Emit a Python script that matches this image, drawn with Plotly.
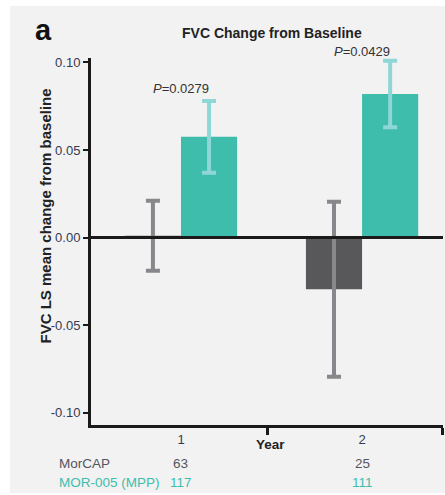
import plotly.graph_objects as go

years = [1, 2]
morcap_vals = [0.001, -0.0295]
morcap_err = [0.020, 0.050]
mpp_vals = [0.0575, 0.082]
mpp_err = [0.0205, 0.019]
p_labels = ["0.0279", "0.0429"]
n_morcap = ["63", "25"]
n_mpp = ["117", "111"]
ytick_vals = [0.10, 0.05, 0.00, -0.05, -0.10]
ytick_text = ["0.10", "0.05", "0.00", "-0.05", "-0.10"]

FONT = "Liberation Sans, Arial, sans-serif"
W, H = 445, 495
L, R, T, B = 91, 2, 58, 70
PW, PH = W - L - R, H - T - B

def px_x(p):
    return (p - L) / PW

def px_y(p):
    return (H - B - p) / PH

fig = go.Figure()
fig.add_trace(go.Bar(
    x=years, y=morcap_vals, name="MorCAP",
    marker=dict(color="#58585a", line=dict(width=0)),
    error_y=dict(type="data", array=morcap_err, color="#88888c", thickness=4, width=7),
))
fig.add_trace(go.Bar(
    x=years, y=mpp_vals, name="MOR-005 (MPP)",
    marker=dict(color="#3fbdac", line=dict(width=0)),
    error_y=dict(type="data", array=mpp_err, color="#8fd6d6", thickness=4, width=7),
))

ann = []
ann.append(dict(text="<b>a</b>", x=px_x(33), y=px_y(30), xref="paper", yref="paper",
                xanchor="left", yanchor="middle", showarrow=False,
                font=dict(family=FONT, size=29, color="#111")))
ann.append(dict(text="<b>FVC Change from Baseline</b>", x=px_x(272), y=px_y(33),
                xref="paper", yref="paper", xanchor="center", yanchor="middle",
                showarrow=False, font=dict(family=FONT, size=14, color="#222")))
ann.append(dict(text="<b>FVC LS mean change from baseline</b>", x=px_x(44.5), y=px_y(216),
                xref="paper", yref="paper", xanchor="center", yanchor="middle",
                textangle=-90, showarrow=False, font=dict(family=FONT, size=15, color="#222")))
ann.append(dict(text="<b>Year</b>", x=px_x(270), y=px_y(445), xref="paper", yref="paper",
                xanchor="center", yanchor="middle", showarrow=False,
                font=dict(family=FONT, size=13.5, color="#222")))
p_py = [88, 52]
for yr, p, py in zip(years, p_labels, p_py):
    ann.append(dict(text="<i>P</i>=" + p, x=yr, y=px_y(py), xref="x", yref="paper",
                    xanchor="center", yanchor="middle", showarrow=False,
                    font=dict(family=FONT, size=13, color="#333")))
ann.append(dict(text="MorCAP", x=px_x(57), y=px_y(464), xref="paper", yref="paper",
                xanchor="left", yanchor="middle", showarrow=False,
                font=dict(family=FONT, size=13.5, color="#555560")))
ann.append(dict(text="MOR-005 (MPP)", x=px_x(57), y=px_y(482), xref="paper", yref="paper",
                xanchor="left", yanchor="middle", showarrow=False,
                font=dict(family=FONT, size=13.5, color="#3fbdac")))
for yr, a, b in zip(years, n_morcap, n_mpp):
    ann.append(dict(text=a, x=yr, y=px_y(464), xref="x", yref="paper", xanchor="center",
                    yanchor="middle", showarrow=False,
                    font=dict(family=FONT, size=13.5, color="#555560")))
    ann.append(dict(text=b, x=yr, y=px_y(482), xref="x", yref="paper", xanchor="center",
                    yanchor="middle", showarrow=False,
                    font=dict(family=FONT, size=13.5, color="#3fbdac")))

shapes = [
    dict(type="rect", xref="paper", yref="paper", x0=px_x(10), x1=px_x(446),
         y0=px_y(493), y1=px_y(6), fillcolor="#f2f2f2", line=dict(width=0), layer="below"),
    dict(type="line", xref="paper", yref="y", x0=0, x1=1, y0=0, y1=0,
         line=dict(color="#1a1a1a", width=3), layer="above"),
]

fig.update_layout(
    width=W, height=H,
    margin=dict(l=L, r=R, t=T, b=B),
    paper_bgcolor="white", plot_bgcolor="rgba(0,0,0,0)",
    barmode="group", bargap=0.38, bargroupgap=0,
    showlegend=False,
    annotations=ann, shapes=shapes,
    xaxis=dict(range=[0.503, 2.447], tickvals=years, ticktext=[str(y) for y in years],
               ticks="", showgrid=False, zeroline=False, showline=True,
               linecolor="#1a1a1a", linewidth=3,
               tickfont=dict(family=FONT, size=13, color="#333a55"),
               minor=dict(tickvals=[1.475, 2.444], ticks="outside", ticklen=7,
                          tickwidth=3, tickcolor="#1a1a1a", showgrid=False)),
    yaxis=dict(range=[-0.107, 0.1025], tickvals=ytick_vals, ticktext=ytick_text,
               ticks="outside", ticklen=5, tickwidth=2, tickcolor="#1a1a1a",
               showgrid=False, zeroline=False, showline=True,
               linecolor="#1a1a1a", linewidth=3,
               tickfont=dict(family=FONT, size=13, color="#333a55")),
)

fig.write_html("out.html", config={"displayModeBar": False},
               post_script="document.body.style.margin='0px';")
